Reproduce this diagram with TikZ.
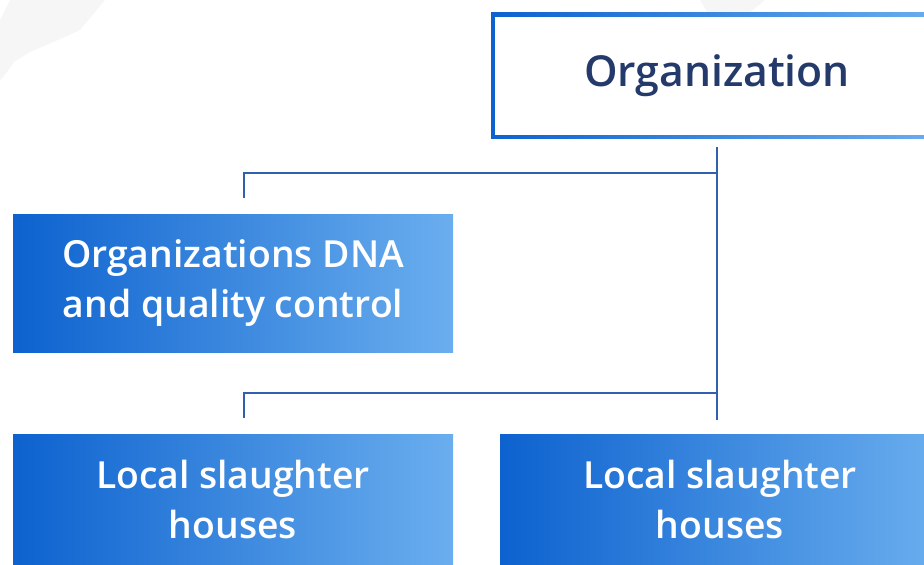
\documentclass[tikz,border=0pt]{standalone}
\usepackage{fontspec}
\IfFontExistsTF{Open Sans Semibold}
  {\setmainfont{Open Sans Semibold}}
  {\IfFontExistsTF{Open Sans SemiBold}
    {\setmainfont{Open Sans SemiBold}}
    {\setmainfont{Open Sans}}}
\usetikzlibrary{positioning,calc}

\definecolor{deepblue}{HTML}{0D62CF}
\definecolor{paleblue}{HTML}{6AAEEE}
\definecolor{linkblue}{HTML}{3060AE}
\definecolor{navytext}{HTML}{233A6B}
\definecolor{haze}{HTML}{F6F6F7}

% sizes in pt: 1px = 0.75pt
\tikzset{
  unitbox/.style={rectangle, inner sep=0pt, minimum width=330pt, minimum height=98.25pt,
    left color=deepblue, right color=paleblue, text=white, align=center,
    font=\fontsize{28}{37.5}\selectfont},
  link/.style={draw=linkblue, line width=2pt}
}

\begin{document}
\begin{tikzpicture}[x=0.75pt,y=0.75pt,yscale=-1,xscale=1]
\useasboundingbox (0,0) rectangle (924,564);
\clip (0,0) rectangle (924,564);

%Faint background shapes
\fill[haze] (10,0) -- (105,0) -- (80,30) -- (58,40) -- (30,52) -- (14,62) -- (4,76) -- (0,80) -- (0,20) -- cycle;
\fill[haze] (700,0) -- (765,0) -- (735,25) -- (718,35) -- (712,20) -- cycle;

%Top box with shaded frame
\fill[left color=deepblue, right color=paleblue] (491,12) rectangle (943,138);
\node[rectangle, fill=white, inner sep=0pt, minimum width=333pt, minimum height=88.5pt,
  text=navytext, font=\fontsize{32}{40}\selectfont] (org) at (717,76) {Organization};

%Unit boxes
\node[unitbox, minimum height=103.5pt] (dna) at (233,283) {Organizations DNA\\and quality control};
\node[unitbox] (houseA) at (233,499.5) {Local slaughter\\houses};
\node[unitbox] (houseB) at (720,499.5) {Local slaughter\\houses};

%Connectors
\coordinate (trunk top) at (717,147);
\coordinate (trunk end) at (717,420);
\coordinate (fork one) at (717,173);
\coordinate (fork two) at (717,393);
\coordinate (tick one) at (244,198);
\coordinate (tick two) at (244,418);
\draw[link] (trunk top) -- (trunk end);
\draw[link] (fork one) -| (tick one);
\draw[link] (fork two) -| (tick two);

\end{tikzpicture}
\end{document}
